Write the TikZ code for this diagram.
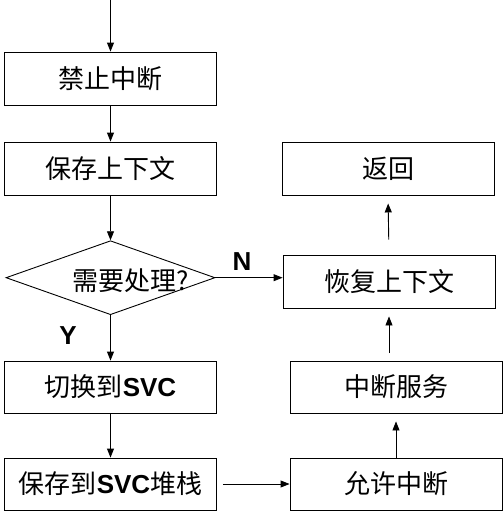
\documentclass[tikz,border=0pt]{standalone}
\usepackage{fontspec}
\setmainfont{Liberation Sans}
\newfontfamily\cjk{Noto Sans CJK SC}
\usetikzlibrary{arrows.meta,shapes.geometric}
\begin{document}
\begin{tikzpicture}[x=1pt,y=-1pt,
  box/.style={draw,line width=0.9pt,minimum width=212pt,minimum height=53pt,inner sep=0pt,font=\fontsize{26}{30}\selectfont},
  arr/.style={line width=0.9pt,-{Triangle[length=9pt,width=7pt]}},
  lbl/.style={font=\fontsize{26}{30}\selectfont\bfseries}]
\useasboundingbox (0,0) rectangle (503,517);
\coordinate (top) at (110.5,0);
\node[box] (b1) at (110.5,78.5) {\cjk 禁止中断};
\node[box] (b2) at (110.5,168.5) {\cjk 保存上下文};
\node[draw,line width=0.9pt,shape=diamond,minimum width=209pt,minimum height=74pt,inner sep=0pt,aspect=2.8] (d) at (110.5,277.7) {};
\node[font=\fontsize{26}{30}\selectfont] (dq) at (130.5,281) {\cjk 需要处理?};
\node[box,minimum height=52pt] (b3) at (110.5,387) {{\cjk 切换到}\textbf{SVC}};
\node[box,minimum height=52pt] (b4) at (110.5,484) {{\cjk 保存到}\textbf{SVC}{\cjk 堆栈}};
\node[box] (r1) at (388,168.5) {\cjk 返回};
\node[box] (r2) at (389,281.5) {\cjk 恢复上下文};
\node[box,minimum height=52pt] (r3) at (396,387) {\cjk 中断服务};
\node[box,minimum height=52pt] (r4) at (396,484) {\cjk 允许中断};
\node[lbl] (N) at (242,262) {N};
\node[lbl] (Y) at (68,336) {Y};
\draw[arr] (top) -- (b1.north);
\draw[arr] (b1) -- (b2);
\draw[arr] (b2.south) -- (d.north);
\draw[arr] (d.south) -- (b3.north);
\draw[arr] (b3) -- (b4);
\draw[arr] (d.east) -- (d.east -| r2.west);
\draw[arr,shorten <=6pt] (b4.east) -- (r4.west);
\draw[arr,shorten >=8pt] (r4.north) -- (r3.south);
\draw[arr,shorten <=7.5pt,shorten >=8pt] (r2.south |- r3.north) -- (r2.south);
\draw[arr,shorten <=15pt,shorten >=8pt] (r2.north) -- (r1.south);
\end{tikzpicture}
\end{document}
